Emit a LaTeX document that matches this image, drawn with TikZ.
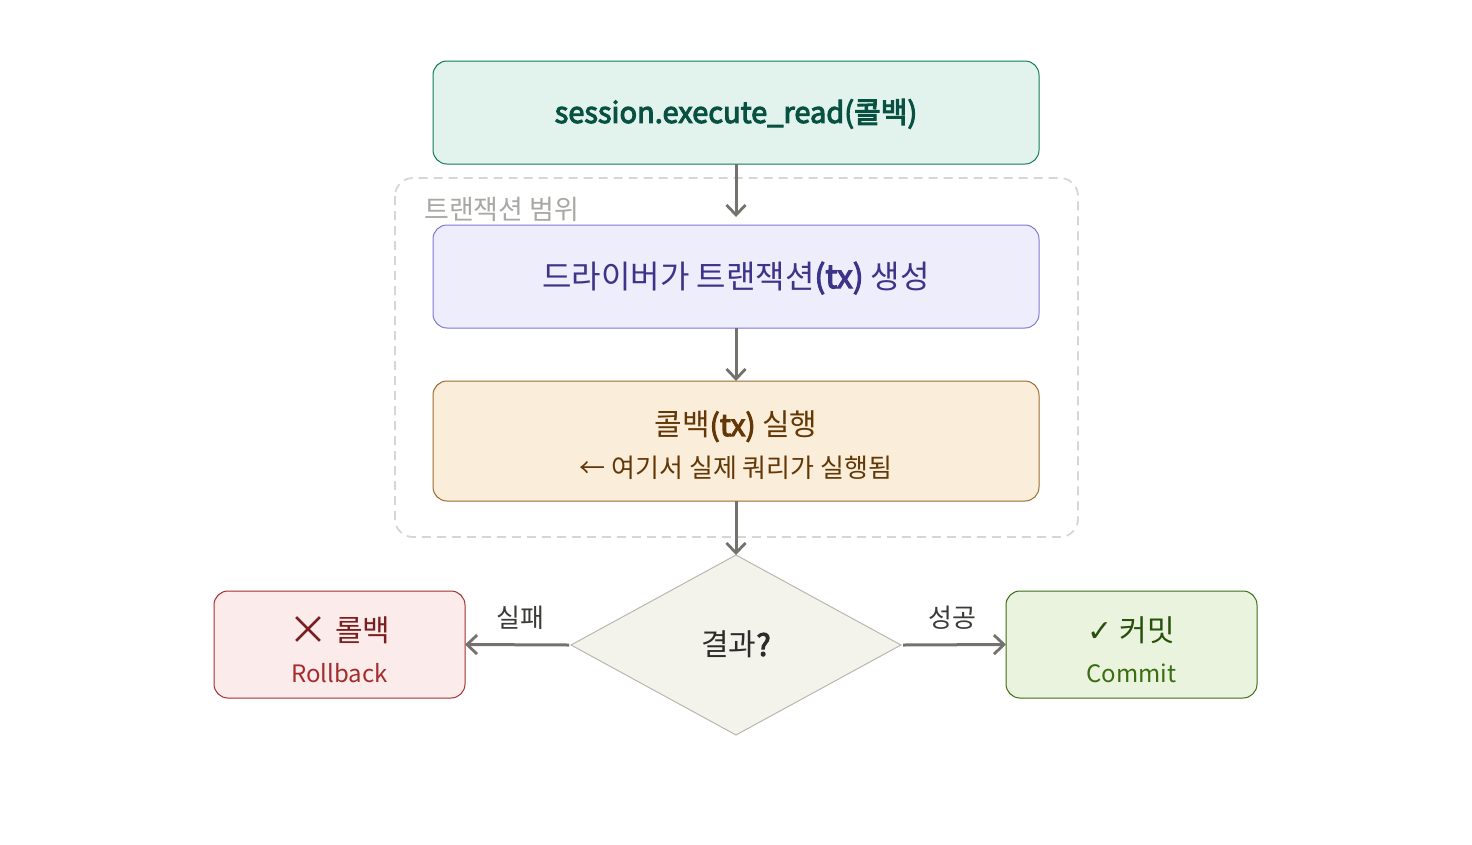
\documentclass[tikz,border=0pt]{standalone}
\usepackage{fontspec}
\setmainfont{Noto Sans CJK KR}
\newfontfamily\semib{Noto Sans CJK KR}[FakeBold=3.5]
\newfontfamily\symfont{DejaVu Sans}
\usetikzlibrary{shapes.geometric,arrows.meta,calc}
\definecolor{gfill}{HTML}{E1F3EC}
\definecolor{gdraw}{HTML}{0F7A5A}
\definecolor{gtext}{HTML}{085041}
\definecolor{pfill}{HTML}{EEEDFB}
\definecolor{pdraw}{HTML}{7F77DD}
\definecolor{ptext}{HTML}{3C3489}
\definecolor{ofill}{HTML}{FAEDDA}
\definecolor{odraw}{HTML}{9A6A2E}
\definecolor{otext}{HTML}{633806}
\definecolor{dfill}{HTML}{F3F3EC}
\definecolor{ddraw}{HTML}{B8B8B0}
\definecolor{dtext}{HTML}{2C2C2A}
\definecolor{rfill}{HTML}{FCEBEB}
\definecolor{rdraw}{HTML}{A32D2D}
\definecolor{rtext}{HTML}{791F1F}
\definecolor{cfill}{HTML}{EAF3DE}
\definecolor{cdraw}{HTML}{3B6D11}
\definecolor{ctext}{HTML}{27500A}
\definecolor{arrowc}{HTML}{73726C}
\definecolor{dashc}{HTML}{D6D6D2}
\definecolor{labelc}{HTML}{A8A8A4}
\definecolor{edgetext}{HTML}{3A3A38}
\newcommand{\vcen}[1]{\raisebox{-0.36em}[0pt][0pt]{#1}}
\tikzset{
  box/.style={rectangle, rounded corners=14pt, line width=1pt, outer sep=0pt, inner sep=0pt, align=center},
  conn/.style={draw=arrowc, line width=3pt, -{Straight Barb[length=10pt,width=19pt,line width=2.8pt]}},
  edgelbl/.style={text=edgetext, font=\fontsize{26}{30}\selectfont, inner sep=0pt},
}
\begin{document}
\begin{tikzpicture}[x=1pt,y=-1pt]
\useasboundingbox (0,0) rectangle (1472,844);
% transaction scope
\draw[dashc, line width=1.8pt, dash pattern=on 9pt off 6pt, rounded corners=18pt] (395,178) rectangle (1078,537);
\node[anchor=west, text=labelc, font=\fontsize{27}{30}\selectfont, inner sep=0pt] (scope) at (424,209) {트랜잭션 범위};
% boxes
\node[box, fill=gfill, draw=gdraw, minimum width=606pt, minimum height=103pt, text=gtext, font=\fontsize{29}{34}\selectfont\semib] (top) at (736,112.5) {\vcen{session.execute\_read(콜백)}};
\node[box, fill=pfill, draw=pdraw, minimum width=606pt, minimum height=103pt, text=ptext, font=\fontsize{32}{34}\selectfont] (drv) at (736,276.5) {\vcen{드라이버가 트랜잭션{\semib(tx)} 생성}};
\node[box, fill=ofill, draw=odraw, minimum width=606pt, minimum height=120pt, text=otext, font=\fontsize{26}{42}\selectfont] (cb) at (736,441) {{\rule{0pt}{34pt}\fontsize{30}{34}\selectfont 콜백{\semib(tx)} 실행}\\{\fontsize{26}{30}\selectfont ← 여기서 실제 쿼리가 실행됨}};
\node[diamond, aspect=1.8333, minimum width=330pt, minimum height=180pt, fill=dfill, draw=ddraw, line width=1pt, outer sep=0pt, inner sep=0pt, text=dtext, font=\fontsize{30}{34}\selectfont] (res) at (736,645) {\vcen{결과{\semib?}}};
\node[box, fill=rfill, draw=rdraw, minimum width=251pt, minimum height=107pt, text=rtext, font=\fontsize{24}{41}\selectfont] (rb) at (339.5,644.5) {{\rule{0pt}{35pt}\fontsize{30}{34}\selectfont{\fontsize{40}{34}\selectfont\raisebox{-3pt}{×}} 롤백}\\{\fontsize{24}{28}\selectfont\color{rdraw}Rollback}};
\node[box, fill=cfill, draw=cdraw, minimum width=251pt, minimum height=107pt, text=ctext, font=\fontsize{24}{41}\selectfont] (cm) at (1131.5,644.5) {{\rule{0pt}{35pt}\fontsize{30}{34}\selectfont{\symfont ✓} 커밋}\\{\fontsize{24}{28}\selectfont\color{cdraw}Commit}};
% connectors
\coordinate (drvin) at ($(drv.north)+(0,-8)$);
\draw[conn] (top.south) -- (drvin);
\draw[conn] (drv.south) -- (cb.north);
\draw[conn] (cb.south) -- (res.north);
\draw[conn] ([xshift=-2pt]res.west) -- (rb.east);
\draw[conn] ([xshift=2pt]res.east) -- (cm.west);
\node[edgelbl] (fail) at (520,618) {실패};
\node[edgelbl] (succ) at (952,618) {성공};
\end{tikzpicture}
\end{document}
